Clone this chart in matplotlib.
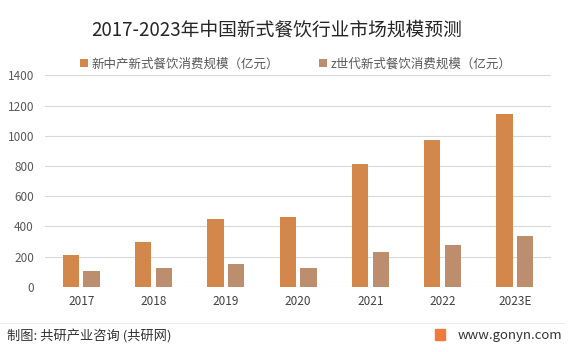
import matplotlib
matplotlib.use('Agg')
import matplotlib.pyplot as plt
import matplotlib.patches as mpatches
import numpy as np

plt.rcParams['font.family'] = ['Noto Sans CJK SC', 'DejaVu Sans']

# data
years = ['2017', '2018', '2019', '2020', '2021', '2022', '2023E']
middle_class = [210, 296, 446, 461, 811, 975, 1145]   # 新中产
gen_z = [108, 122, 152, 126, 228, 278, 340]            # z世代
labels = ['新中产新式餐饮消费规模（亿元）', 'z世代新式餐饮消费规模（亿元）']
yticks = [0, 200, 400, 600, 800, 1000, 1200, 1400]

c_orange = '#D4874A'
c_brown = '#BC8E6D'
grey = '#595959'

fig = plt.figure(figsize=(5.71, 3.52), dpi=100)
ax = fig.add_axes([0.079, 0.185, 0.886, 0.601])

x = np.arange(len(years))
w = 0.225
off = 0.143
ax.bar(x - off, middle_class, width=w, color=c_orange, zorder=3, label=labels[0])
ax.bar(x + off, gen_z, width=w, color=c_brown, zorder=3, label=labels[1])

ax.set_xlim(-0.5, len(years) - 0.5)
ax.set_ylim(0, 1400)
ax.set_yticks(yticks)
ax.set_xticks(x)
ax.set_xticklabels(years)
ax.yaxis.grid(True, color='#D9D9D9', linewidth=0.8, zorder=0)
ax.tick_params(axis='both', length=0, labelsize=8.5, colors=grey)
ax.tick_params(axis='x', pad=6, colors='#404040')
ax.tick_params(axis='y', pad=8)
for s in ax.spines.values():
    s.set_visible(False)

fig.text(0.485, 0.915, '2017-2023年中国新式餐饮行业市场规模预测', ha='center', va='center',
         fontsize=13.5, color='#262626')

fig.legend(loc='center', bbox_to_anchor=(0.518, 0.818), ncol=2, frameon=False,
           fontsize=9, labelcolor=grey, handlelength=0.6, handleheight=0.6,
           handletextpad=0.3, columnspacing=3.2)

# footer
fig.add_artist(plt.Line2D([0.0, 0.99], [0.083, 0.083], color='#EDEDED', linewidth=0.8))
fig.text(0.012, 0.043, '制图: 共研产业咨询 (共研网)', ha='left', va='center',
         fontsize=9.5, color='#333333', fontweight='medium')
fig.text(0.985, 0.048, 'www.gonyn.com', ha='right', va='center',
         fontsize=9.5, color='#333333')
fig.add_artist(mpatches.Rectangle((0.762, 0.035), 0.018, 0.03, color='#F07A3C',
                                  transform=fig.transFigure))

fig.savefig('out.png', dpi=100)
